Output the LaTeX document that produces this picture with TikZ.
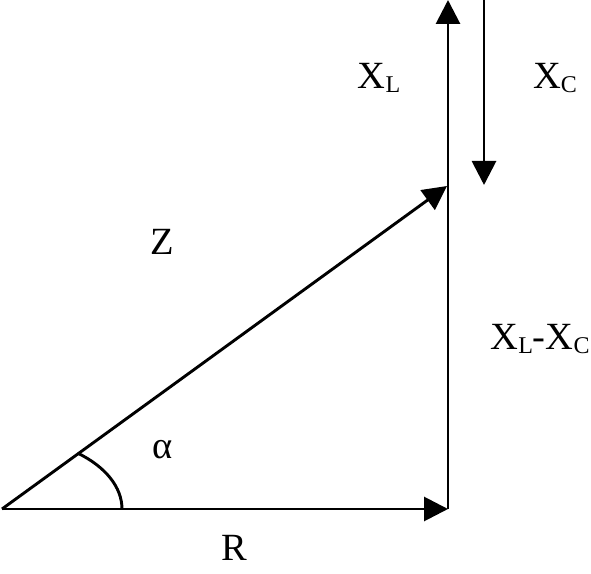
\documentclass[tikz,border=0pt]{standalone}
\usepackage{fontspec}
\setmainfont{Liberation Serif}
\usetikzlibrary{arrows.meta}
\newcommand{\lowidx}[1]{\raisebox{-4pt}{\fontsize{24}{24}\selectfont #1}}

\begin{document}
\begin{tikzpicture}[x=1pt,y=1pt,line width=2.9pt,
		vec/.style={-{Triangle[length=24pt,width=24pt]}},
		lbl/.style={anchor=base,inner sep=0pt,font=\fontsize{38.5}{44}\selectfont}]
	\useasboundingbox (0,0) rectangle (591,573);
	\coordinate (O)    at (2,64);
	\coordinate (R)    at (448,64);
	\coordinate (XL)   at (448,573);
	\coordinate (Z)    at (447,387);
	\coordinate (XCa)  at (484,573);
	\coordinate (XCb)  at (484,388);
	
	\draw[vec] (O) -- (R);
	\draw[vec] (R) -- (XL);
	\draw[vec] (O) -- (Z);
	\draw[vec] (XCa) -- (XCb);
	\draw (O) ++(120,0) arc[start angle=0,end angle=51,x radius=120,y radius=72];
	
	\node[lbl] (lXL)   at (379,484) {X\lowidx{L}};
	\node[lbl] (lXC)   at (555,484) {X\lowidx{C}};
	\node[lbl] (lZ)    at (162,318) {Z};
	\node[lbl] (lXLXC) at (540,223) {X\lowidx{L}-X\lowidx{C}};
	\node[lbl] (lalpha) at (163,115) {α};
	\node[lbl] (lR)    at (234,13)  {R};
\end{tikzpicture}
\end{document}
